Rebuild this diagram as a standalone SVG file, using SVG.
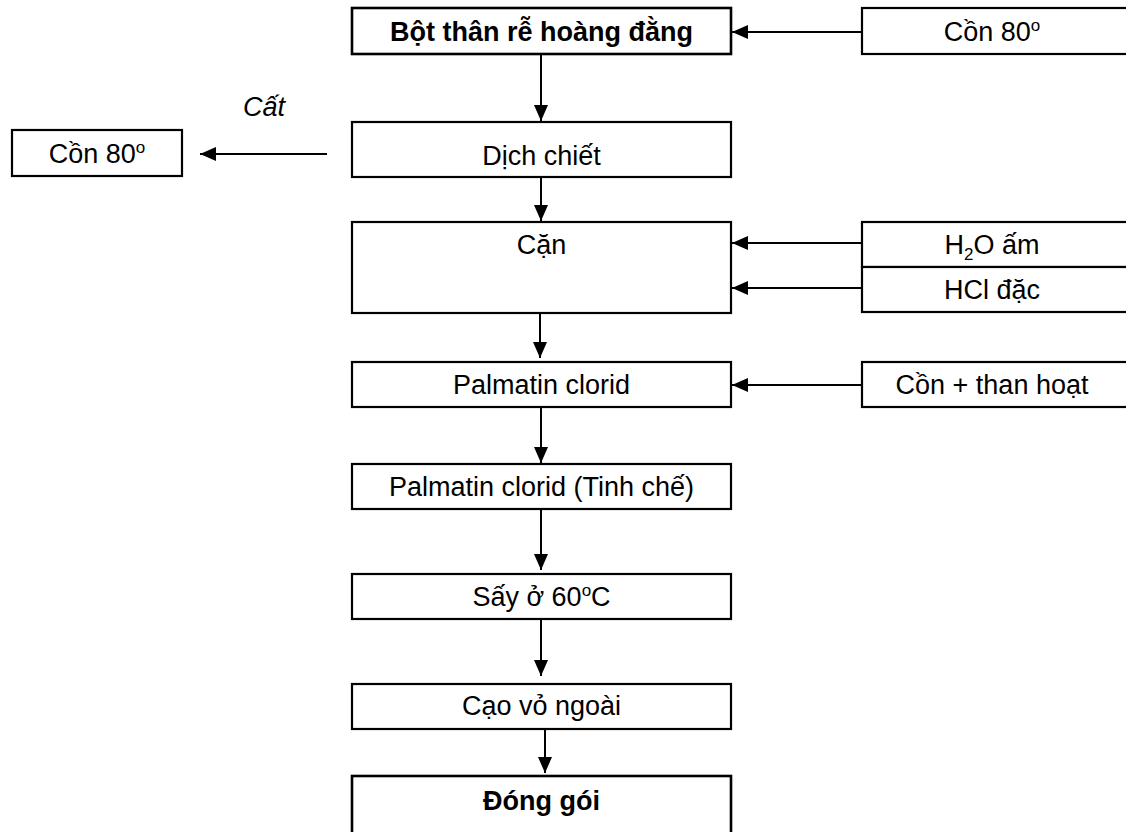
<svg xmlns="http://www.w3.org/2000/svg" width="1126" height="832" viewBox="0 0 1126 832">
  <style>
    .box { fill: #ffffff; stroke: #000000; stroke-width: 2.2; }
    .box-bold { fill: #ffffff; stroke: #000000; stroke-width: 2.6; }
    .lbl { font-family: "Liberation Sans", Arial, sans-serif; font-size: 27px; fill: #000000; text-anchor: middle; }
    .lbl-bold { font-weight: bold; }
    .lbl-italic { font-style: italic; }
    .flow { stroke: #000000; stroke-width: 2; fill: none; marker-end: url(#head); }
  </style>
  <defs>
    <marker id="head" viewBox="0 0 16 14" refX="16" refY="7" markerWidth="16" markerHeight="14" markerUnits="userSpaceOnUse" orient="auto">
      <path d="M0,0 L16,7 L0,14 Z" fill="#000000"/>
    </marker>
  </defs>
  <rect width="1126" height="832" fill="#ffffff"/>

  <!-- connectors -->
  <g id="connectors">
    <line class="flow" x1="862" y1="32" x2="732" y2="32"/>
    <line class="flow" x1="541" y1="54" x2="541" y2="121"/>
    <line class="flow" x1="327" y1="154" x2="200" y2="154"/>
    <line class="flow" x1="541" y1="177" x2="541" y2="221"/>
    <line class="flow" x1="862" y1="243" x2="732" y2="243"/>
    <line class="flow" x1="862" y1="288" x2="732" y2="288"/>
    <line class="flow" x1="540" y1="313" x2="540" y2="358"/>
    <line class="flow" x1="862" y1="385" x2="732" y2="385"/>
    <line class="flow" x1="541" y1="407" x2="541" y2="463"/>
    <line class="flow" x1="541" y1="509" x2="541" y2="570"/>
    <line class="flow" x1="541" y1="619" x2="541" y2="676"/>
    <line class="flow" x1="545" y1="729" x2="545" y2="773"/>
  </g>

  <!-- raw material -->
  <g id="bot-than-re">
    <rect class="box-bold" x="352" y="8" width="379" height="46"/>
    <text class="lbl lbl-bold" x="541.5" y="41">Bột thân rễ hoàng đằng</text>
  </g>
  <g id="con-80-in">
    <rect class="box" x="862" y="8" width="266" height="46"/>
    <text class="lbl" x="992" y="41">Cồn 80<tspan font-size="17" dy="-10">o</tspan></text>
  </g>

  <!-- extraction -->
  <g id="dich-chiet">
    <rect class="box" x="352" y="122" width="379" height="55"/>
    <text class="lbl" x="541.5" y="165">Dịch chiết</text>
  </g>
  <g id="cat-label">
    <text class="lbl lbl-italic" x="264" y="116">Cất</text>
  </g>
  <g id="con-80-out">
    <rect class="box" x="12" y="130" width="170" height="46"/>
    <text class="lbl" x="97" y="163">Cồn 80<tspan font-size="17" dy="-10">o</tspan></text>
  </g>

  <!-- residue -->
  <g id="can">
    <rect class="box" x="352" y="222" width="379" height="91"/>
    <text class="lbl" x="541.5" y="254">Cặn</text>
  </g>
  <g id="h2o-am">
    <rect class="box" x="862" y="222" width="266" height="45"/>
    <text class="lbl" x="992" y="254">H<tspan font-size="17" dy="6">2</tspan><tspan dy="-6">O ấm</tspan></text>
  </g>
  <g id="hcl-dac">
    <rect class="box" x="862" y="267" width="266" height="45"/>
    <text class="lbl" x="992" y="299">HCl đặc</text>
  </g>

  <!-- crude product -->
  <g id="palmatin-clorid">
    <rect class="box" x="352" y="362" width="379" height="45"/>
    <text class="lbl" x="541.5" y="394">Palmatin clorid</text>
  </g>
  <g id="con-than-hoat">
    <rect class="box" x="862" y="362" width="266" height="45"/>
    <text class="lbl" x="992" y="394">Cồn + than hoạt</text>
  </g>

  <!-- purified product -->
  <g id="palmatin-tinh-che">
    <rect class="box" x="352" y="464" width="379" height="45"/>
    <text class="lbl" x="541.5" y="496">Palmatin clorid (Tinh chế)</text>
  </g>

  <!-- drying -->
  <g id="say">
    <rect class="box" x="352" y="574" width="379" height="45"/>
    <text class="lbl" x="541.5" y="606">Sấy ở 60<tspan font-size="17" dy="-10">o</tspan><tspan dy="10">C</tspan></text>
  </g>

  <!-- scraping -->
  <g id="cao-vo">
    <rect class="box" x="352" y="684" width="379" height="45"/>
    <text class="lbl" x="541.5" y="715">Cạo vỏ ngoài</text>
  </g>

  <!-- packaging -->
  <g id="dong-goi">
    <rect class="box-bold" x="352" y="776" width="379" height="60"/>
    <text class="lbl lbl-bold" x="541.5" y="810">Đóng gói</text>
  </g>
</svg>
